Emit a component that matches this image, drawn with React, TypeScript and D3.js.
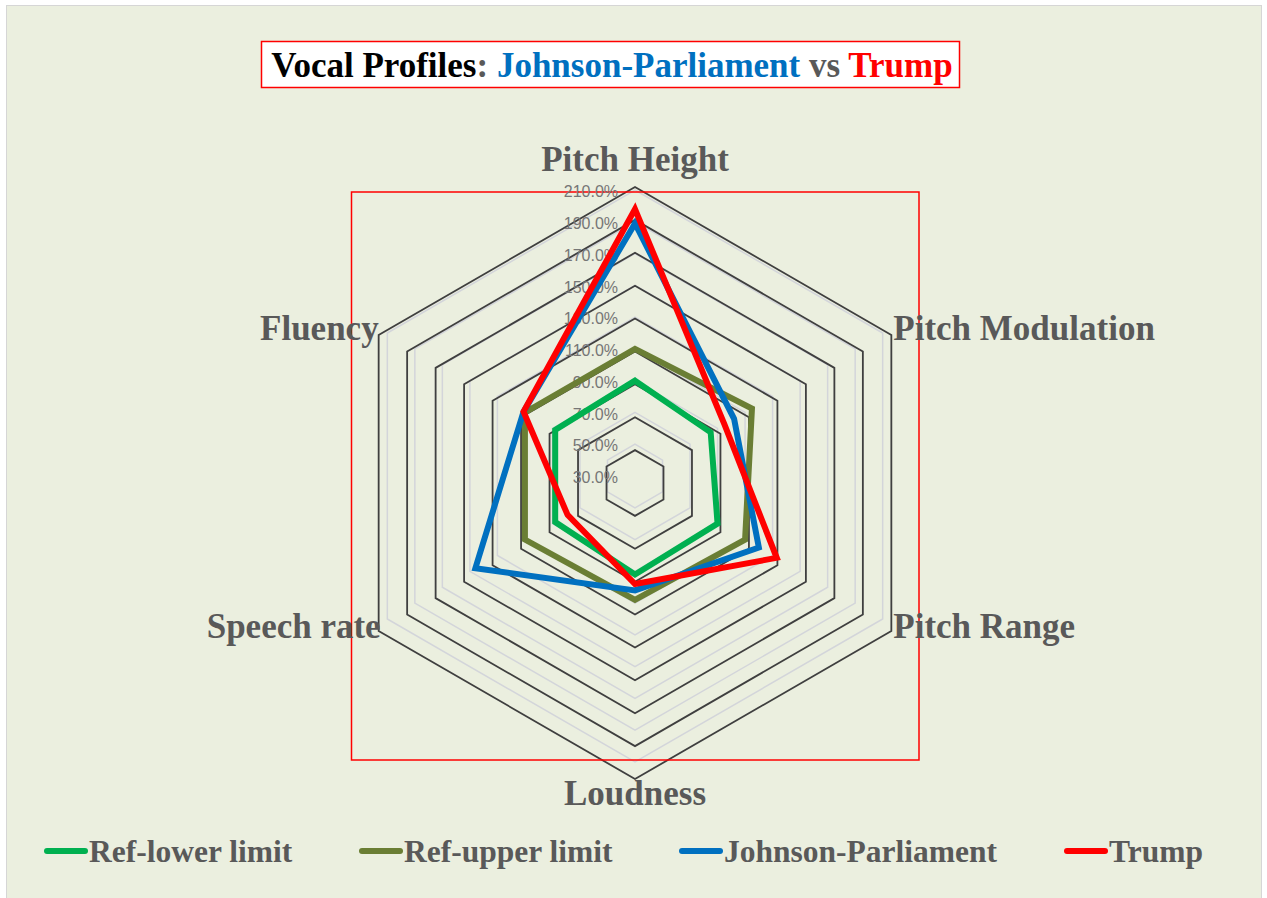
import React, { useEffect, useRef } from "react";
import * as d3 from "d3";

// chart data
const axesLabels = ["Pitch Height", "Pitch Modulation", "Pitch Range", "Loudness", "Speech rate", "Fluency"];
const refLower = [90, 85, 90, 92, 88, 88];
const refUpper = [110, 115, 110, 108, 110, 110];
const johnson = [189, 102, 120, 102, 146, 111];
const trump = [198, 95, 133, 98, 79, 111];
const tickValues = [30, 50, 70, 90, 110, 130, 150, 170, 190, 210];

const seriesList = [
  { name: "Ref-lower limit", values: refLower, color: "#00B050" },
  { name: "Ref-upper limit", values: refUpper, color: "#6A7E34" },
  { name: "Johnson-Parliament", values: johnson, color: "#0070C0" },
  { name: "Trump", values: trump, color: "#FF0000" },
];

const W = 1267;
const H = 898;

const App = () => {
  const ref = useRef<SVGSVGElement>(null);

  useEffect(() => {
    const svg = d3.select(ref.current);
    svg.selectAll("*").remove();

    const serif = "'Liberation Serif', 'Times New Roman', serif";
    const grey = "#595959";

    svg.append("rect").attr("width", W).attr("height", H).attr("fill", "#fff");
    svg
      .append("rect")
      .attr("x", 6.5)
      .attr("y", 5.5)
      .attr("width", 1255)
      .attr("height", 900)
      .attr("fill", "#EBEFDF")
      .attr("stroke", "#d6d6d6");

    const cx = 635;
    const cy = 476;
    const n = axesLabels.length;
    const angle = (i) => (i * 2 * Math.PI) / n;

    // main radial scale (data, light grid, tick labels)
    const r = d3.scaleLinear().domain([30, 210]).range([0, 286]);
    // the darker grid in the picture sits a bit lower and is a bit bigger
    const rDark = d3.scaleLinear().domain([30, 210]).range([0, 296]);
    const cyDark = 483;

    const ring = d3
      .lineRadial<number>()
      .angle((d, i) => angle(i))
      .radius((d) => d)
      .curve(d3.curveLinearClosed);

    const light = svg.append("g").attr("transform", `translate(${cx},${cy})`);
    tickValues.slice(1).forEach((t) => {
      light
        .append("path")
        .attr("d", ring(d3.range(n).map(() => r(t))))
        .attr("fill", "none")
        .attr("stroke", "#d3d5da")
        .attr("stroke-width", 1.5);
    });

    const dark = svg.append("g").attr("transform", `translate(${cx},${cyDark})`);
    tickValues.slice(1).forEach((t) => {
      dark
        .append("path")
        .attr("d", ring(d3.range(n).map(() => rDark(t))))
        .attr("fill", "none")
        .attr("stroke", "#3f3f3f")
        .attr("stroke-width", 1.8);
    });

    // plot area frame
    svg
      .append("rect")
      .attr("x", 351.5)
      .attr("y", 192)
      .attr("width", 567.5)
      .attr("height", 568)
      .attr("fill", "none")
      .attr("stroke", "#FF0000")
      .attr("stroke-width", 1.5);

    // tick labels
    svg
      .append("g")
      .selectAll("text")
      .data(tickValues)
      .enter()
      .append("text")
      .attr("x", cx - 17)
      .attr("y", (d) => cy - r(d) + 3)
      .attr("text-anchor", "end")
      .attr("dominant-baseline", "middle")
      .style("font-family", "'Liberation Sans', Arial, sans-serif")
      .style("font-size", "16px")
      .attr("fill", "#767676")
      .text((d) => d3.format(".1f")(d) + "%");

    // series
    const plot = svg.append("g").attr("transform", `translate(${cx},${cy})`);
    seriesList.forEach((s) => {
      plot
        .append("path")
        .attr("d", ring(s.values.map((v) => r(v))))
        .attr("fill", "none")
        .attr("stroke", s.color)
        .attr("stroke-width", 6)
        .attr("stroke-linejoin", "miter");
    });

    // axis labels
    const outer = (i) => {
      const a = angle(i);
      return [cx + rDark(210) * Math.sin(a), cyDark - rDark(210) * Math.cos(a)];
    };
    const labelPos = [
      { dx: 0, dy: -16, anchor: "middle" },
      { dx: 2, dy: 5, anchor: "start" },
      { dx: 2, dy: 7, anchor: "start" },
      { dx: 0, dy: 26, anchor: "middle" },
      { dx: 2, dy: 7, anchor: "end" },
      { dx: 0, dy: 5, anchor: "end" },
    ];
    axesLabels.forEach((lab, i) => {
      const [x, y] = outer(i);
      svg
        .append("text")
        .attr("x", x + labelPos[i].dx)
        .attr("y", y + labelPos[i].dy)
        .attr("text-anchor", labelPos[i].anchor)
        .style("font-family", serif)
        .style("font-weight", "bold")
        .style("font-size", "35px")
        .attr("fill", grey)
        .text(lab);
    });

    // title
    svg
      .append("rect")
      .attr("x", 261.5)
      .attr("y", 41.5)
      .attr("width", 698)
      .attr("height", 46)
      .attr("fill", "#fff")
      .attr("stroke", "#FF0000")
      .attr("stroke-width", 1.5);
    const title = svg
      .append("text")
      .attr("x", 612)
      .attr("y", 77)
      .attr("text-anchor", "middle")
      .style("font-family", serif)
      .style("font-weight", "bold")
      .style("font-size", "35px");
    title.append("tspan").attr("fill", "#000").text("Vocal Profiles");
    title.append("tspan").attr("fill", grey).text(": ");
    title.append("tspan").attr("fill", "#0070C0").text("Johnson-Parliament");
    title.append("tspan").attr("fill", grey).text(" vs ");
    title.append("tspan").attr("fill", "#FF0000").text("Trump");

    // legend
    const legendX = [45, 360, 680, 1065];
    const legend = svg
      .append("g")
      .selectAll("g")
      .data(seriesList)
      .enter()
      .append("g")
      .attr("transform", (d, i) => `translate(${legendX[i]},851)`);
    legend
      .append("line")
      .attr("x1", 2)
      .attr("x2", 40)
      .attr("stroke", (d) => d.color)
      .attr("stroke-width", 6)
      .attr("stroke-linecap", "round");
    legend
      .append("text")
      .attr("x", 44)
      .attr("y", 11)
      .style("font-family", serif)
      .style("font-weight", "bold")
      .style("font-size", "31.5px")
      .attr("fill", grey)
      .text((d) => d.name);
  }, []);

  return (
    <svg
      ref={ref}
      width={W}
      height={H}
      style={{ position: "absolute", left: 0, top: 0, display: "block" }}
    />
  );
};

export default App;
